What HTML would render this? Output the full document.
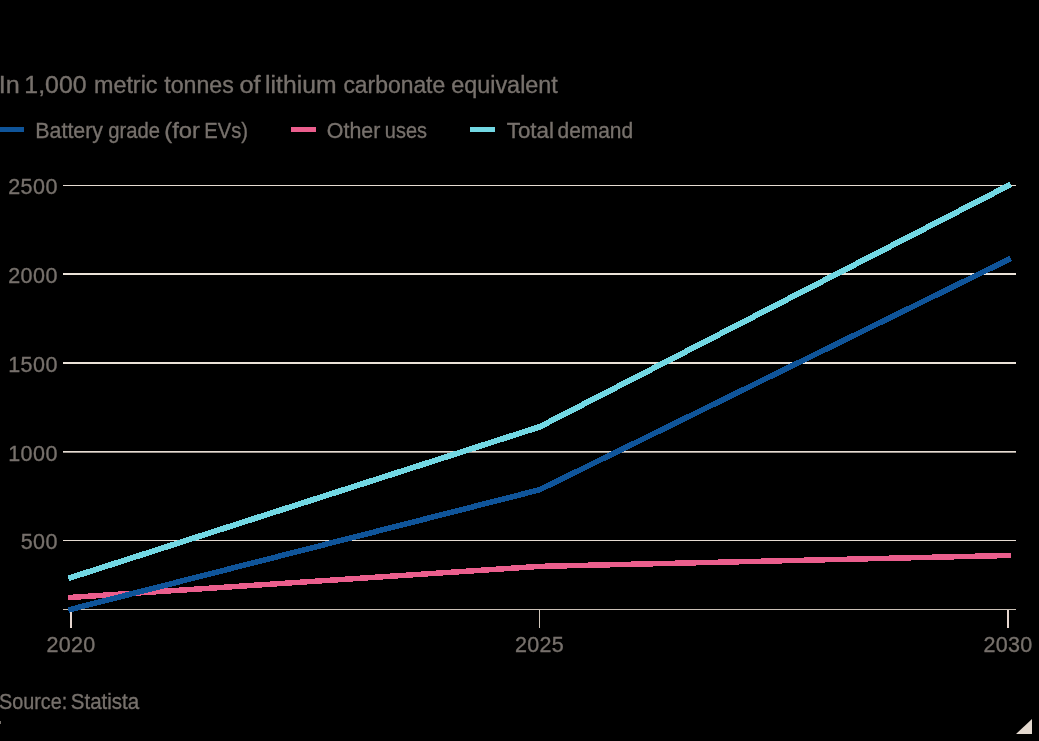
<!DOCTYPE html>
<html>
<head>
<meta charset="utf-8">
<style>
html,body{margin:0;padding:0;background:#000;}
body{width:1039px;height:741px;overflow:hidden;position:relative;}
svg{position:absolute;left:0;top:0;display:block;will-change:transform;}
text{font-family:"Liberation Sans",sans-serif;fill:#77716c;stroke:#77716c;stroke-width:0.35px;}
</style>
</head>
<body>
<svg width="1039" height="741" viewBox="0 0 1039 741">
<rect x="0" y="0" width="1039" height="741" fill="#000"/>
<!-- subtitle -->
<g font-size="23.3">
<text x="-1.16" y="93" textLength="21.01" lengthAdjust="spacingAndGlyphs">In</text>
<text x="24.38" y="93" textLength="62.17" lengthAdjust="spacingAndGlyphs">1,000</text>
<text x="93.98" y="93" textLength="63.52" lengthAdjust="spacingAndGlyphs">metric</text>
<text x="164.23" y="93" textLength="69.58" lengthAdjust="spacingAndGlyphs">tonnes</text>
<text x="239.44" y="93" textLength="21.14" lengthAdjust="spacingAndGlyphs">of</text>
<text x="265.12" y="93" textLength="71.43" lengthAdjust="spacingAndGlyphs">lithium</text>
<text x="343.39" y="93" textLength="101.85" lengthAdjust="spacingAndGlyphs">carbonate</text>
<text x="451.19" y="93" textLength="106.67" lengthAdjust="spacingAndGlyphs">equivalent</text>
</g>
<!-- legend -->
<rect x="0" y="127" width="24" height="5" fill="#0f5499"/>
<g font-size="21.7">
<text x="35.33" y="138" textLength="67.71" lengthAdjust="spacingAndGlyphs">Battery</text>
<text x="108.18" y="138" textLength="51.73" lengthAdjust="spacingAndGlyphs">grade</text>
<text x="164.22" y="138" textLength="35.65" lengthAdjust="spacingAndGlyphs">(for</text>
<text x="204.31" y="138" textLength="43.65" lengthAdjust="spacingAndGlyphs">EVs)</text>
<text x="326.86" y="138" textLength="53.48" lengthAdjust="spacingAndGlyphs">Other</text>
<text x="384.85" y="138" textLength="42.10" lengthAdjust="spacingAndGlyphs">uses</text>
<text x="506.74" y="138" textLength="47.13" lengthAdjust="spacingAndGlyphs">Total</text>
<text x="557.52" y="138" textLength="75.63" lengthAdjust="spacingAndGlyphs">demand</text>
</g>
<rect x="291" y="127" width="25" height="5" fill="#eb5e8d"/>
<rect x="470" y="127" width="25" height="5" fill="#72d7e3"/>
<!-- gridlines -->
<g fill="#e6dcd2" shape-rendering="crispEdges">
<rect x="63" y="185" width="953" height="1"/>
<rect x="63" y="273" width="953" height="2" fill="#ebe2d8"/>
<rect x="63" y="362" width="953" height="2" fill="#ebe2d8"/>
<rect x="63" y="451" width="953" height="1"/>
<rect x="63" y="452" width="953" height="1" fill="#9c958f"/>
<rect x="63" y="540" width="953" height="1"/>
<rect x="63" y="609" width="953" height="1" fill="#cbc1b7"/>
<rect x="70" y="610" width="2" height="18" fill="#e6d6cf"/>
<rect x="539" y="610" width="1" height="18" fill="#d2c7bc"/>
<rect x="1007" y="610" width="2" height="18" fill="#e6d6cf"/>
</g>
<!-- y labels -->
<g font-size="21.5" text-anchor="end" letter-spacing="0.5">
<text x="58" y="193.8">2500</text>
<text x="58" y="282.5">2000</text>
<text x="58" y="371.7">1500</text>
<text x="58" y="460.5">1000</text>
<text x="58" y="548.8">500</text>
</g>
<!-- x labels -->
<g font-size="21.5" text-anchor="middle" letter-spacing="0.3">
<text x="71" y="651.5">2020</text>
<text x="539.5" y="651.5">2025</text>
<text x="1008" y="651.5">2030</text>
</g>
<!-- series -->
<g fill="none" stroke-linecap="butt" stroke-linejoin="miter" shape-rendering="crispEdges">
<polyline stroke="#eb5e8d" stroke-width="5.5" points="68.11,597.59 539.50,566.40 1010.90,555.43"/>
<polyline stroke="#0f5499" stroke-width="5.6" points="68.19,610.02 539.50,489.80 1010.60,258.52"/>
<polyline stroke="#72d7e3" stroke-width="5.8" points="68.24,578.39 539.50,426.90 1010.58,184.47"/>
</g>
<!-- source -->
<g font-size="21.8">
<text x="-1.05" y="709.4" textLength="68.22" lengthAdjust="spacingAndGlyphs">Source:</text>
<text x="70.83" y="709.4" textLength="68.34" lengthAdjust="spacingAndGlyphs">Statista</text>
</g>
<rect x="0" y="721" width="1" height="3" fill="#77716c"/>
<!-- corner triangle -->
<polygon points="1016,734 1032,719 1032,734" fill="#e4d9cf"/>
</svg>
</body>
</html>
